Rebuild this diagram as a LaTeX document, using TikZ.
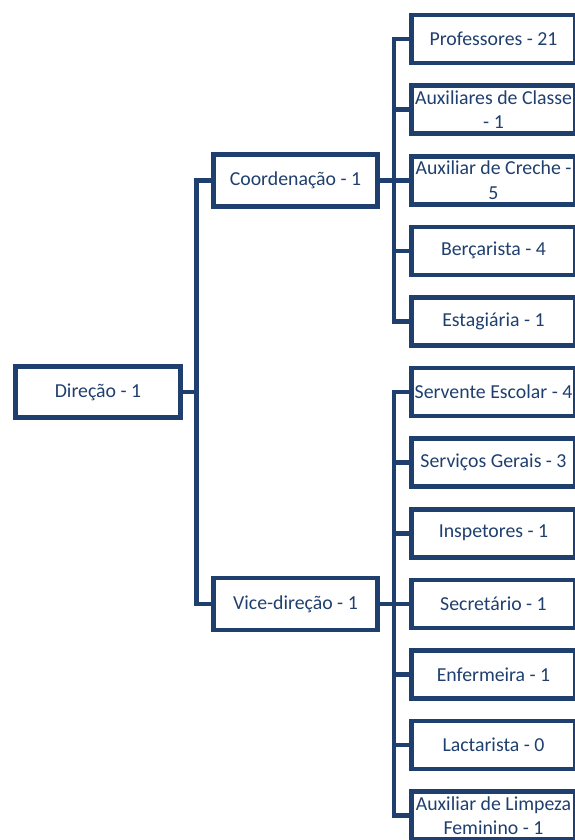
\documentclass[tikz,border=0pt]{standalone}
\usepackage{fontspec}
\setmainfont{Carlito}
\usepackage{tikz}
\definecolor{orgblue}{HTML}{1F3F6E}
\tikzset{
  box/.style={draw=orgblue, line width=4.6pt, text=orgblue, minimum width=164pt,
    minimum height=48pt, inner sep=0pt, align=center,
    font=\fontsize{19.8}{24.5}\selectfont},
  link/.style={draw=orgblue, line width=4.6pt},
}

\begin{document}
\begin{tikzpicture}[x=1pt,y=-1pt]
  \useasboundingbox (0,0) rectangle (574,840);
  % top level and the two middle boxes
  \node[box, minimum width=165pt, minimum height=51pt] (dir) at (98,392) {Direção - 1};
  \node[box, minimum height=52pt] (coord) at (295.5,180.5) {Coordenação - 1};
  \node[box, minimum height=52pt] (vice) at (295.5,603.8) {Vice-direção - 1};
  \coordinate (busA) at (196.5,0);
  \coordinate (busB) at (394,0);
  % staff column
  \foreach \i/\txt in {0/{Professores - 21}, 1/{Auxiliares de Classe\\- 1},
      2/{Auxiliar de Creche -\\5}, 3/{Berçarista - 4}, 4/{Estagiária - 1},
      5/{Servente Escolar - 4}, 6/{Serviços Gerais - 3}, 7/{Inspetores - 1},
      8/{Secretário - 1}, 9/{Enfermeira - 1}, 10/{Lactarista - 0},
      11/{Auxiliar de Limpeza\\Feminino - 1}}
    \node[box] (st\i) at (493.5,39+70.6*\i) {\txt};
  \draw[link] (dir.east) -- (busA |- dir.east) |- (coord.west);
  \draw[link] (dir.east) -- (busA |- dir.east) |- (vice.west);
  \foreach \i in {0,...,4}
    \draw[link] (coord.east) -- (busB |- coord.east) |- (st\i.west);
  \foreach \i in {5,...,11}
    \draw[link] (vice.east) -- (busB |- vice.east) |- (st\i.west);
\end{tikzpicture}
\end{document}
